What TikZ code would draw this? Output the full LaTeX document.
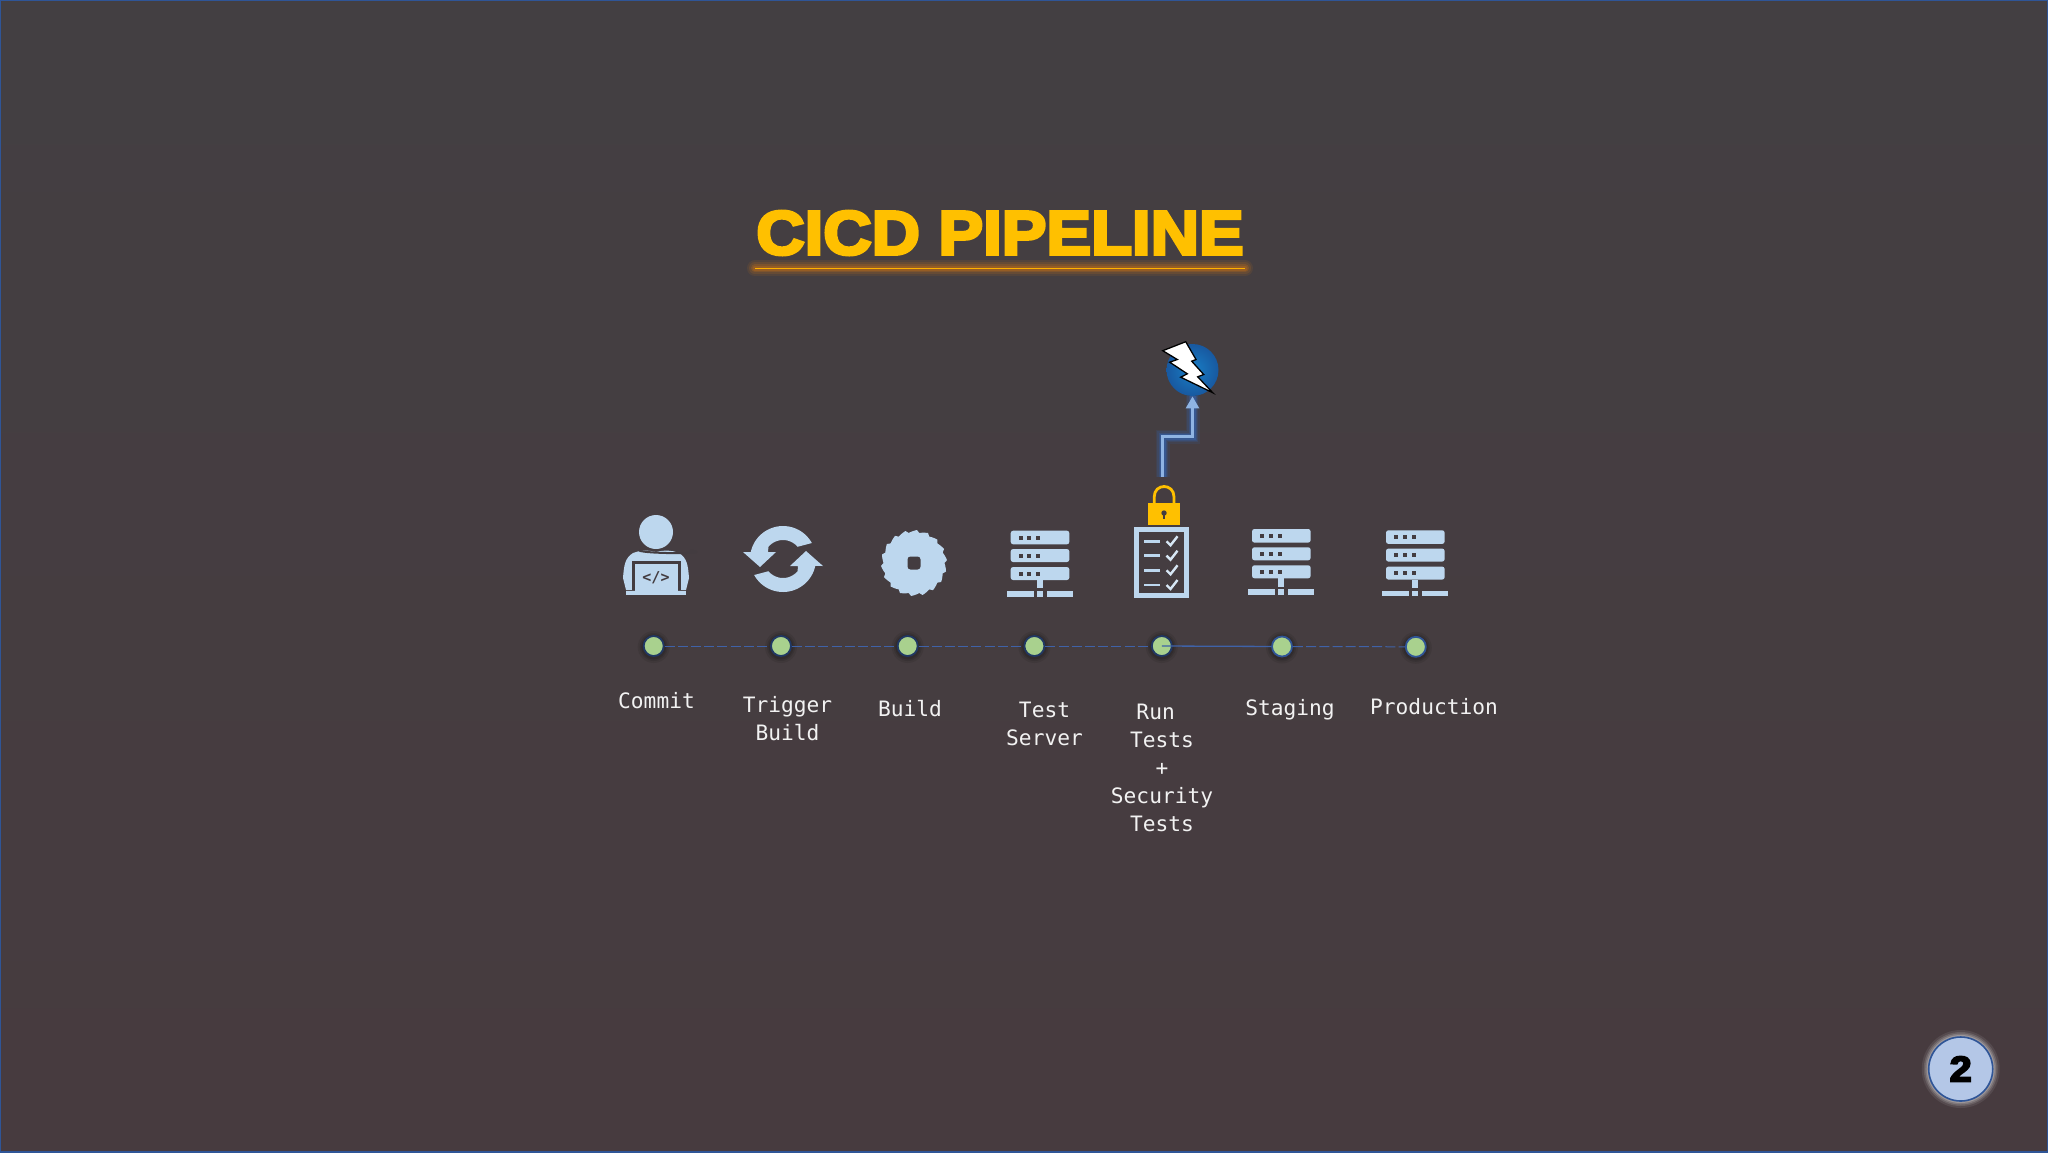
\documentclass[tikz,border=0pt]{standalone}
\usepackage{fontspec}
\usetikzlibrary{arrows.meta,shadings}
\newfontfamily\lblfont{DejaVu Sans Mono}
\newfontfamily\titlefont[FakeBold=5,FakeStretch=1.08]{Liberation Sans Bold}
\newfontfamily\badgefont[FakeBold=5,FakeStretch=1.1]{Liberation Sans Bold}
\definecolor{bgtop}{HTML}{433F42}
\definecolor{bgbot}{HTML}{473B3F}
\definecolor{bgdark}{HTML}{433C40}
\definecolor{edgeblue}{HTML}{2F5597}
\definecolor{iconblue}{HTML}{BDD7EE}
\definecolor{dotgreen}{HTML}{A9D18E}
\definecolor{ringblue}{HTML}{203864}
\definecolor{linkblue}{HTML}{3F62A8}
\definecolor{gold}{HTML}{FFC000}
\definecolor{zapblue}{HTML}{1C68BC}
\definecolor{arrowblue}{HTML}{8FB4E3}
\definecolor{glowblue}{HTML}{2F6FD0}
\definecolor{glowora}{HTML}{E07A10}
\definecolor{badgeblue}{HTML}{B4C7E7}
\tikzset{
  lbl/.style={font=\lblfont\fontsize{10.6pt}{14pt}\selectfont,text=white!95!black,align=center,inner sep=0pt,outer sep=0pt,anchor=north},
  pipedot/.style={circle,fill=dotgreen,draw=#1,line width=.9pt,minimum size=10pt,inner sep=0pt},
  pipedot/.default=ringblue,
  dashlink/.style={draw=linkblue,line width=.5pt,dash pattern=on 5pt off 1.6pt},
  solidlink/.style={draw=linkblue,line width=.65pt},
  serverico/.pic={
    \fill[iconblue,rounded corners=1.2pt] (-29.3,0) rectangle (29.3,13.6);
    \fill[iconblue,rounded corners=1.2pt] (-29.3,18.3) rectangle (29.3,31.3);
    \fill[iconblue,rounded corners=1.2pt] (-29.3,36.3) rectangle (29.3,49.3);
    \fill[iconblue] (-3,49.3) rectangle (3,57.5);
    \fill[iconblue] (-33,60.3) rectangle (-6,66);
    \fill[iconblue] (-3,60.3) rectangle (3,66);
    \fill[iconblue] (6.7,60.3) rectangle (32.7,66);
    \foreach \dy in {6.8,24.8,42.8}{\foreach \dx in {-19.3,-10.7,-1.7}{
      \fill[bgdark] (\dx-2,\dy-2) rectangle (\dx+2,\dy+2);}}
  }
}
\begin{document}
\begin{tikzpicture}[x=.5pt,y=-.5pt]
\useasboundingbox (0,0) rectangle (2048,1152);
\shade[top color=bgtop,bottom color=bgbot] (0,0) rectangle (2048,1152);
\draw[edgeblue,line width=1pt] (0,0) rectangle (2048,1152);

% title
\node[inner sep=0pt,text=gold,font=\titlefont\fontsize{31pt}{36pt}\selectfont] (title) at (1000,233) {CICD PIPELINE};
\coordinate (ulL) at (755,268.3);
\coordinate (ulR) at (1245,268.3);
\foreach \w/\o in {8/.10,6/.14,4/.2,2.5/.25}{
  \draw[glowora,line width=\w pt,line cap=round,opacity=\o] (ulL) -- (ulR);}
\draw[color=orange!60!yellow,line width=.6pt] (ulL) -- (ulR);

% pipeline dots
\foreach \px/\py in {653.7/646,781/646,907.7/646,1034.4/646,1161.8/646,1282/646.5,1415.8/646.8}{
  \foreach \r/\o in {16/.08,14/.1,12.5/.12}{
    \fill[black,opacity=\o] (\px,\py+1) circle (\r);}}
\node[pipedot] (d1) at (653.7,646) {};
\node[pipedot] (d2) at (781,646) {};
\node[pipedot] (d3) at (907.7,646) {};
\node[pipedot] (d4) at (1034.4,646) {};
\node[pipedot] (d5) at (1161.8,646) {};
\node[pipedot=edgeblue] (d6) at (1282,646.5) {};
\node[pipedot=edgeblue] (d7) at (1415.8,646.8) {};
\draw[dashlink] (d1) -- (d2);
\draw[dashlink] (d2) -- (d3);
\draw[dashlink] (d3) -- (d4);
\draw[dashlink] (d4) -- (d5);
\draw[solidlink] (d5.center) -- (d6);
\draw[dashlink] (d6) -- (d7);

% labels
\node[lbl] (l1) at (656.5,688.7) {\strut Commit};
\node[lbl] (l2) at (787.5,692.6) {\strut Trigger\\\strut Build};
\node[lbl] (l3) at (910,696.4) {\strut Build};
\node[lbl] (l4) at (1044.5,698.1) {\strut Test\\\strut Server};
\node[lbl] (l5) at (1162,699.4) {\strut Run\hphantom{x}\\\strut Tests\\\strut +\\\strut Security\\\strut Tests};
\node[lbl] (l6) at (1290,696) {\strut Staging};
\node[lbl] (l7) at (1434,695.2) {\strut Production};

% person icon
\fill[iconblue] (626,590) -- (623,578) .. controls (624,565) and (625,558) .. (633,553)
  .. controls (640,550) and (648,550) .. (656,552) .. controls (664,550) and (672,550) .. (679,553)
  .. controls (687,558) and (688,565) .. (689,578) -- (686,590) -- cycle;
\fill[iconblue] (656,532) circle (17);
\draw[bgdark,line width=1pt] (656,532)+(-17,18.5) .. controls +(6,3.5) and +(28,3.5) .. +(34,18.5);
\fill[bgdark] (632,561) rectangle (680.5,590);
\fill[iconblue] (635,564) rectangle (677.5,591);
\fill[iconblue] (626,590.7) rectangle (686,595);
\node[inner sep=0pt,text=bgdark,font=\lblfont\bfseries\fontsize{7.5pt}{8pt}\selectfont] (codetag) at (656,578) {</>};

% sync icon
\foreach \rot in {0,180}{
\begin{scope}[rotate around={\rot:(783,559)}]
  \fill[iconblue] plot[domain=-29:-168,samples=30] ({783+33*cos(\x)},{559+33*sin(\x)})
    -- (743,552) -- (760,567) -- (776,552) -- (768,552)
    -- plot[domain=-140:-40,samples=20] ({783+19*cos(\x)},{559+19*sin(\x)})
    -- cycle;
\end{scope}}

% saw blade icon
\fill[iconblue] plot[domain=0:360,samples=73] ({914+(30.5+3.5*mod(\x,20)/20)*cos(\x)},{563+(30.5+3.5*mod(\x,20)/20)*sin(\x)}) -- cycle;
\fill[bgdark,rounded corners=1.5pt] (907.5,556.5) rectangle (920.5,569.5);

% servers
\pic at (1040,530.7) {serverico};
\pic at (1281.3,529) {serverico};
\pic at (1415.3,530.3) {serverico};

% checklist icon
\draw[iconblue,line width=2.5pt] (1136.5,529.5) rectangle (1186.8,595.2);
\foreach \yy in {541.3,555.7,570.3,585}{
  \fill[iconblue] (1144,\yy-1.3) rectangle (1160,\yy+1.3);
  \draw[iconblue!60!white,line width=1.2pt] (1166.5,\yy) -- (1170.5,\yy+4) -- (1177.5,\yy-5);
}

% lock icon
\node[fill=gold,inner sep=0pt,minimum width=16pt,minimum height=11pt] (lock) at (1164.1,513.8) {};
\draw[gold,line width=1.4pt] (1154.2,504) -- (1154.2,497) .. controls (1154.2,483) and (1174,483) .. (1174,497) -- (1174,504);
\fill[bgdark] (1164,513) circle (2.7);
\fill[bgdark] (1162.8,513) rectangle (1165.2,519);

% ZAP icon and arrow
\node[circle,minimum size=26pt,inner sep=0pt,inner color=zapblue!85!cyan,outer color=zapblue!85!black] (zap) at (1192.5,370) {};
\filldraw[fill=white,draw=black,line width=.65pt,line join=miter] (1162.7,350.7) -- (1185.7,341.7) -- (1196,359.5) -- (1191.7,361.2) -- (1203.7,374.5) -- (1197.7,376.8) -- (1212.7,392.7) -- (1180.7,377.2) -- (1187.3,373.8) -- (1169.7,362.2) -- (1177.3,359.5) -- cycle;
\coordinate (astart) at (1162.7,476.7);
\coordinate (abend) at (1162.7,436.7);
\foreach \w/\o in {7/.10,5.5/.14,4/.2,3/.3}{
  \draw[glowblue,line width=\w pt,opacity=\o] (astart) -- (abend) -| (zap.south);}
\draw[arrowblue,line width=1.3pt,-{Triangle[length=6pt,width=6.5pt]}] (astart) -- (abend) -| (zap.south);

% page badge
\foreach \r/\o in {39/.08,37/.12,35.5/.16,34/.22}{
  \fill[white,opacity=\o] (1960.7,1069) circle (\r);}
\node[circle,fill=badgeblue,draw=edgeblue,line width=.8pt,minimum size=32pt,inner sep=0pt,text=black,font=\badgefont\fontsize{18pt}{20pt}\selectfont] (badge) at (1960.7,1069) {2};
\end{tikzpicture}
\end{document}
